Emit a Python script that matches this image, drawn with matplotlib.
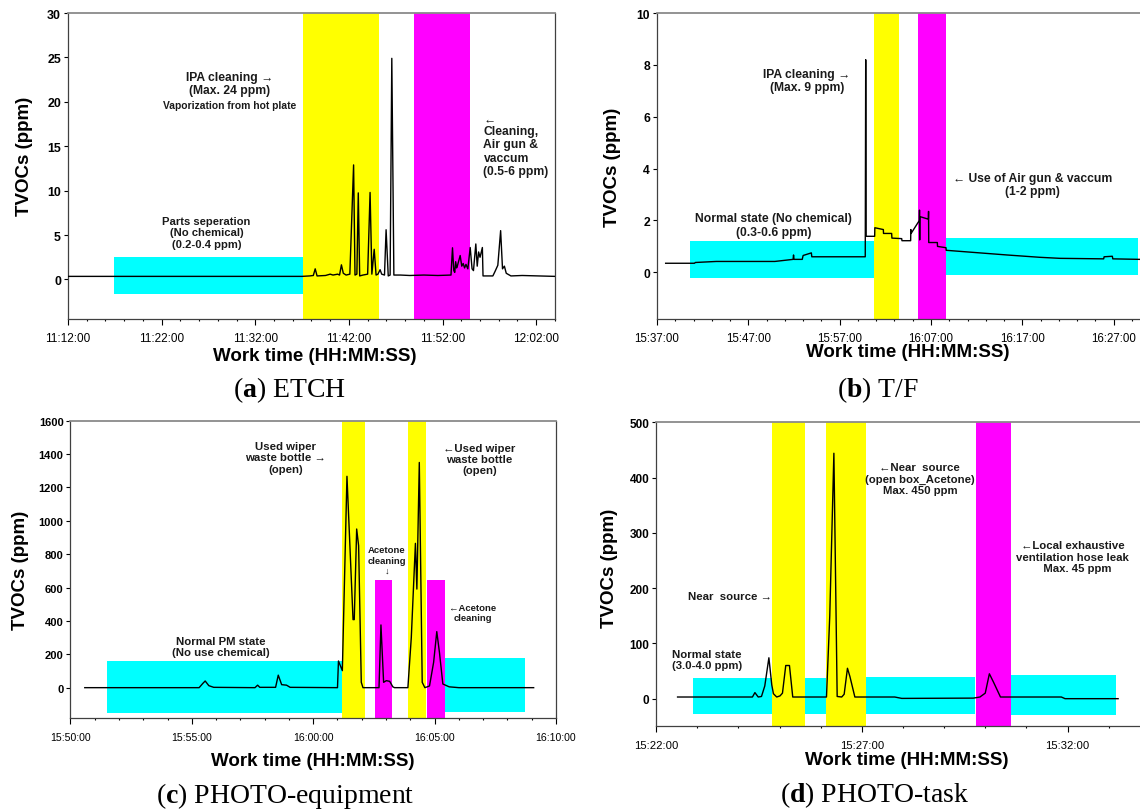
import matplotlib
matplotlib.use("Agg")
import numpy as np
import matplotlib.pyplot as plt
from matplotlib.ticker import MultipleLocator, FuncFormatter

plt.rcParams['font.family'] = ['Liberation Sans', 'DejaVu Sans']
plt.rcParams['mathtext.fontset'] = 'custom'
plt.rcParams['mathtext.rm'] = 'Liberation Serif'
plt.rcParams['mathtext.bf'] = 'Liberation Serif:bold'

# ---------------- data (time = minutes after first tick, TVOC in ppm) ----------------
# (a) ETCH
etch_start = "11:12:00"
etch_t = [0.0, 25.0, 25.8, 26.2, 26.4, 26.6, 27.5, 28.0, 28.3, 28.8, 29.0, 29.2, 29.4, 29.7,
          30.1, 30.5, 30.65, 30.85, 31.0, 31.15, 31.5, 32.0, 32.26, 32.45, 32.7, 32.9, 33.1,
          33.33, 33.5, 33.8, 33.97, 34.2, 34.4, 34.58, 34.8, 35.5, 36.5, 38.0, 39.5, 40.9,
          41.06, 41.2, 41.3, 41.4, 41.5, 41.6, 41.88, 42.05, 42.2, 42.35, 42.5, 42.7, 42.95,
          43.15, 43.3, 43.55, 43.7, 43.85, 44.0, 44.25, 44.32, 45.37, 45.6, 45.9, 46.2, 46.4,
          46.6, 46.8, 47.3, 48.5, 52.0]
etch_v = [0.35, 0.35, 0.4, 0.45, 1.2, 0.4, 0.45, 0.6, 0.5, 0.6, 0.5, 1.65, 0.7, 0.5,
          0.6, 12.9, 0.5, 0.6, 9.75, 0.4, 0.5, 0.6, 9.8, 0.6, 3.4, 0.5, 0.6,
          1.1, 0.6, 0.5, 5.6, 0.4, 0.5, 24.9, 0.5, 0.5, 0.45, 0.5, 0.45, 0.5,
          3.57, 1.0, 0.8, 2.0, 1.3, 1.6, 2.7, 1.5, 1.8, 1.3, 1.7, 1.2, 3.6,
          1.2, 1.0, 4.0, 1.5, 3.1, 2.5, 3.6, 0.4, 0.4, 0.9, 1.6, 5.5, 1.2,
          1.5, 0.7, 0.4, 0.45, 0.35]
etch_band_x0 = [4.88, 25.07, 36.9]
etch_band_x1 = [25.07, 33.2, 42.95]
etch_band_lo = [-1.61, None, None]
etch_band_hi = [2.55, None, None]
etch_band_kind = ["normal", "chem", "clean"]

# (b) T/F
tf_start = "15:37:00"
tf_t = [0.95, 4.1, 4.2, 6.5, 12.9, 14.9, 14.95, 15.0, 15.9, 16.0, 16.9, 16.95, 18.5, 22.8,
        22.85, 22.9, 23.83, 23.85, 24.78, 24.8, 25.69, 25.72, 26.79, 26.82, 27.77, 27.79,
        27.82, 28.72, 28.74, 28.76, 28.78, 29.71, 29.73, 29.75, 30.69, 30.71, 31.64, 31.66,
        34.6, 38.3, 41.9, 44.1, 48.9, 48.95, 49.85, 49.9, 52.9]
tf_v = [0.35, 0.35, 0.38, 0.42, 0.42, 0.5, 0.67, 0.5, 0.5, 0.65, 0.75, 0.6, 0.6, 0.6,
        8.2, 1.39, 1.39, 1.72, 1.65, 1.5, 1.5, 1.32, 1.3, 1.22, 1.22, 1.65,
        1.5, 2.0, 2.4, 1.25, 2.15, 2.05, 2.35, 1.15, 1.15, 1.0, 0.95, 0.85,
        0.77, 0.67, 0.58, 0.54, 0.52, 0.6, 0.62, 0.52, 0.5]
tf_band_x0 = [3.56, 23.76, 28.57, 31.64]
tf_band_x1 = [23.83, 26.53, 31.64, 52.7]
tf_band_lo = [-0.22, None, None, -0.09]
tf_band_hi = [1.21, None, None, 1.32]
tf_band_kind = ["normal", "chem", "clean", "normal"]

# (c) PHOTO-equipment
pe_start = "15:50:00"
pe_t = [0.59, 5.3, 5.45, 5.55, 5.7, 5.9, 7.6, 7.71, 7.8, 8.45, 8.56, 8.7, 8.9, 9.05,
        11.0, 11.04, 11.2, 11.39, 11.64, 11.69, 11.79, 11.87, 11.98, 12.05, 12.71, 12.79,
        12.9, 13.01, 13.15, 13.28, 13.35, 13.9, 14.04, 14.21, 14.27, 14.37, 14.49, 14.6,
        14.79, 14.96, 15.09, 15.2, 15.34, 15.6, 16.0, 19.08]
pe_v = [0, 0, 25, 40, 12, 2, 0, 15, 2, 2, 75, 18, 15, 2,
        0, 160, 102, 1267, 408, 408, 951, 851, 32, 0, 0, 376,
        32, 42, 38, 5, 0, 0, 300, 865, 591, 1350, 32, 0,
        10, 152, 336, 211, 22, 5, 0, 0]
pe_band_x0 = [1.52, 11.17, 12.53, 13.89, 14.67, 15.41]
pe_band_x1 = [11.17, 12.12, 13.26, 14.63, 15.41, 18.72]
pe_band_lo = [-152, None, -182, None, -182, -146]
pe_band_hi = [160, None, 643, None, 643, 176]
pe_band_kind = ["normal", "chem", "clean", "chem", "clean", "normal"]

# (d) PHOTO-task
pt_start = "15:22:00"
pt_t = [0.52, 2.34, 2.4, 2.48, 2.56, 2.64, 2.74, 2.81, 2.85, 2.93, 3.01, 3.07, 3.15, 3.24,
        3.32, 4.14, 4.22, 4.32, 4.4, 4.51, 4.57, 4.65, 4.71, 4.83, 5.8, 5.97, 7.71, 7.87,
        8.0, 8.1, 8.2, 8.37, 9.85, 9.94, 11.23]
pt_v = [3, 3, 11, 3, 4, 23, 74, 25, 9, 3, 5, 10, 60, 60,
        3, 3, 150, 444, 4, 3, 8, 55, 40, 3, 3, 0.5, 1, 3,
        10, 45, 30, 3, 3, 0, 0]
pt_band_x0 = [0.89, 2.82, 3.62, 4.13, 5.09, 7.78, 8.62]
pt_band_x1 = [2.82, 3.62, 4.13, 5.09, 7.76, 8.62, 11.18]
pt_band_lo = [-27.7, None, -28, None, -28, None, -29]
pt_band_hi = [37.4, None, 37.4, None, 38.9, None, 43]
pt_band_kind = ["normal", "chem", "normal", "chem", "normal", "clean", "normal"]

band_color = {"normal": "#00FFFF", "chem": "#FFFF00", "clean": "#FF00FF"}


def hms(start):
    h, m, s = map(int, start.split(":"))
    t0 = h * 3600 + m * 60 + s

    def f(x, pos):
        t = int(round(t0 + x * 60))
        return f"{t // 3600:02d}:{t % 3600 // 60:02d}:{t % 60:02d}"
    return FuncFormatter(f)


def panel(ax, t, v, x0s, x1s, los, his, kinds, start, xlim, ylim, xmaj, xmin_, ystep,
          tsize, tpad):
    for x0, x1, lo, hi, k in zip(x0s, x1s, los, his, kinds):
        if lo is None:
            ax.axvspan(x0, x1, color=band_color[k], lw=0, zorder=0)
        else:
            ax.fill_between([x0, x1], [lo, lo], [hi, hi], color=band_color[k], lw=0, zorder=0)
    ax.plot(t, v, color="black", lw=1.0, zorder=3)
    ax.set_xlim(*xlim)
    ax.set_ylim(*ylim)
    ax.xaxis.set_major_locator(MultipleLocator(xmaj))
    ax.xaxis.set_minor_locator(MultipleLocator(xmin_))
    ax.xaxis.set_major_formatter(hms(start))
    ax.set_yticks(np.arange(0, ylim[1] + ystep / 2, ystep))
    ax.tick_params(axis="x", which="major", length=4, width=0.8, labelsize=tsize, pad=tpad)
    ax.tick_params(axis="x", which="minor", length=1.5, width=0.8)
    ax.tick_params(axis="y", length=3, width=0.8, labelsize=tsize + 0.4, pad=2)
    for lbl in ax.get_yticklabels():
        lbl.set_fontweight("bold")
    for s in ["left", "bottom", "right"]:
        ax.spines[s].set_color("#404040")
        ax.spines[s].set_linewidth(0.9)
    ax.spines["top"].set_color("#8a8a8a")
    ax.spines["top"].set_linewidth(1.3)
    ax.set_xlabel("Work time (HH:MM:SS)", fontsize=13.5, fontweight="bold", va="top")
    ax.set_ylabel("TVOCs (ppm)", fontsize=13.5, fontweight="bold")


def note(ax, x, y, s, size=8.7, ha="center"):
    ax.text(x, y, s, ha=ha, va="center", fontsize=size, fontweight="bold",
            color="#1a1a1a", linespacing=1.15, zorder=4)


fig = plt.figure(figsize=(11.4, 8.12), dpi=100)

# (a)
ax = fig.add_axes([0.0596, 0.6059, 0.4272, 0.3768])
panel(ax, etch_t, etch_v, etch_band_x0, etch_band_x1, etch_band_lo, etch_band_hi,
      etch_band_kind, etch_start, (0, 52.0), (-4.45, 30), 10, 2, 5, 8.5, 5)
ax.xaxis.set_label_coords(0.507, -0.092)
ax.yaxis.set_label_coords(-0.072, 0.534)
note(ax, 17.29, 22.1, "IPA cleaning \u2192\n(Max. 24 ppm)")
note(ax, 17.29, 19.65, "Vaporization from hot plate", size=7.4)
note(ax, 44.37, 15.2, "\u2190\nCleaning,\nAir gun &\nvaccum\n(0.5-6 ppm)", ha="left")
note(ax, 14.79, 5.3, "Parts seperation\n(No chemical)\n(0.2-0.4 ppm)", size=8.1)

# (b)
ax = fig.add_axes([0.5763, 0.6059, 0.4395, 0.3768])
panel(ax, tf_t, tf_v, tf_band_x0, tf_band_x1, tf_band_lo, tf_band_hi,
      tf_band_kind, tf_start, (0, 54.85), (-1.8, 10), 10, 2, 2, 8.3, 5.4)
ax.xaxis.set_label_coords(0.501, -0.08)
ax.yaxis.set_label_coords(-0.072, 0.5)
note(ax, 16.4, 7.4, "IPA cleaning \u2192\n(Max. 9 ppm)")
note(ax, 41.1, 3.39, "\u2190 Use of Air gun & vaccum\n(1-2 ppm)")
note(ax, 12.8, 1.83, "Normal state (No chemical)\n(0.3-0.6 ppm)")

# (c)
ax = fig.add_axes([0.0618, 0.1145, 0.4259, 0.3661])
panel(ax, pe_t, pe_v, pe_band_x0, pe_band_x1, pe_band_lo, pe_band_hi,
      pe_band_kind, pe_start, (0, 20), (-182, 1600), 5, 1, 200, 7.6, 6.2)
ax.xaxis.set_label_coords(0.4995, -0.113)
ax.yaxis.set_label_coords(-0.085, 0.501)
note(ax, 8.87, 1380, "Used wiper\nwaste bottle \u2192\n(open)", size=8.2)
note(ax, 16.85, 1370, "\u2190Used wiper\nwaste bottle\n(open)", size=8.2)
note(ax, 13.04, 765, "Acetone\ncleaning\n\u2193", size=6.8)
note(ax, 16.57, 451, "\u2190Acetone\ncleaning", size=6.8)
note(ax, 6.21, 249, "Normal PM state\n(No use chemical)", size=8.2)

# (d)
ax = fig.add_axes([0.5756, 0.1043, 0.4402, 0.3744])
panel(ax, pt_t, pt_v, pt_band_x0, pt_band_x1, pt_band_lo, pt_band_hi,
      pt_band_kind, pt_start, (0, 12.2), (-50, 500), 5, 1, 100, 8.1, 6.2)
ax.xaxis.set_label_coords(0.4998, -0.08)
ax.yaxis.set_label_coords(-0.077, 0.523)
note(ax, 6.41, 398, "\u2190Near  source\n(open box_Acetone)\nMax. 450 ppm", size=8.2)
note(ax, 1.79, 185, "Near  source \u2192", size=8.2)
note(ax, 1.24, 71.5, "Normal state\n(3.0-4.0 ppm)", size=8.2)
note(ax, 10.13, 257, "\u2190Local exhaustive\nventilation hose leak\n   Max. 45 ppm", size=8.2)

# captions
cap = dict(fontsize=20, family="Liberation Serif", ha="center", va="center")
fig.text(0.2535, 0.520, r"($\mathbf{a}$) ETCH", **cap)
fig.text(0.7698, 0.520, r"($\mathbf{b}$) T/F", **cap)
fig.text(0.250, 0.020, r"($\mathbf{c}$) PHOTO-equipment", **cap)
fig.text(0.7675, 0.021, r"($\mathbf{d}$) PHOTO-task", **cap)

fig.savefig("out.png", dpi=100)
